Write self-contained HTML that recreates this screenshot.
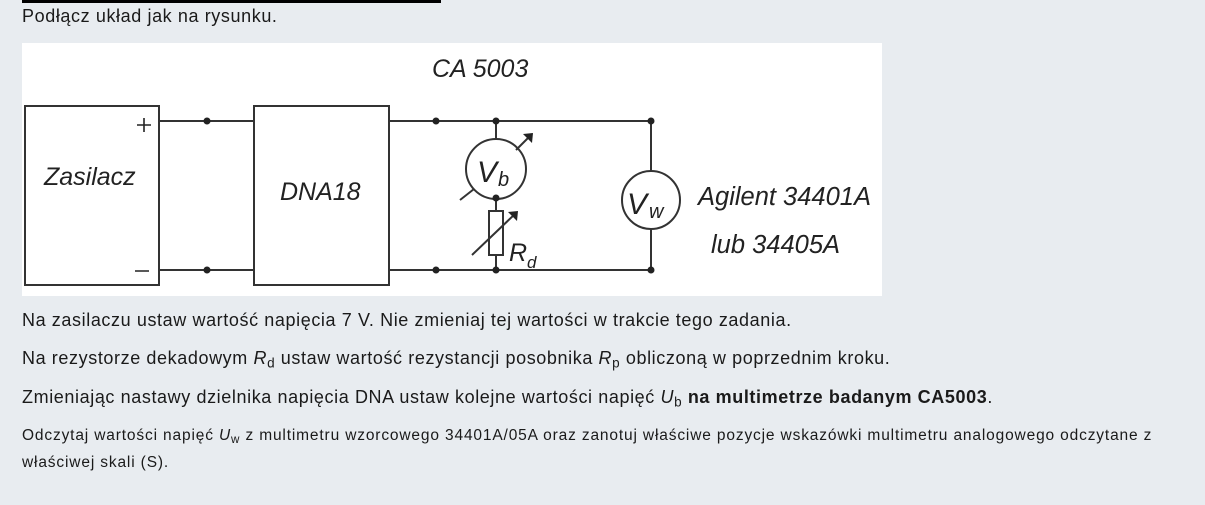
<!DOCTYPE html>
<html><head><meta charset="utf-8"><style>
body{margin:0;width:1205px;height:505px;background:#e8ecf0;font-family:"Liberation Sans",sans-serif;color:#1a1a1a;position:relative;overflow:hidden}
.t{position:absolute;left:22px;white-space:nowrap;font-size:18px;letter-spacing:0.6px}
.s{font-size:15.5px;letter-spacing:0.85px}
sub{font-size:0.75em;vertical-align:-0.25em}
</style></head><body>
<div style="position:absolute;left:22px;top:0;width:419px;height:3px;background:#000"></div>
<div style="position:absolute;left:100px;top:0;width:2px;height:3px;background:#000"></div>
<div class="t" style="top:6px">Podłącz układ jak na rysunku.</div>
<svg style="position:absolute;left:22px;top:43px" width="860" height="253" viewBox="22 43 860 253">
<rect x="22" y="43" width="860" height="253" fill="#fff"/>
<g stroke="#333" stroke-width="2" fill="none">
<rect x="25" y="106" width="134" height="179"/>
<rect x="254" y="106" width="135" height="179"/>
<path d="M159 121H254M159 270H254M389 121H651V171M389 270H651V229M496 121V139M496 199V211M496 255V270"/>
<circle cx="496" cy="169" r="30"/>
<circle cx="651" cy="200" r="29"/>
<rect x="489" y="211" width="14" height="44"/>
<path d="M474 189L460 200M532 134L516 150M472 255L516 213"/>
</g>
<g fill="#222"><circle cx="207" cy="121" r="3.5"/><circle cx="207" cy="270" r="3.5"/><circle cx="436" cy="121" r="3.5"/><circle cx="496" cy="121" r="3.5"/><circle cx="651" cy="121" r="3.5"/><circle cx="436" cy="270" r="3.5"/><circle cx="496" cy="270" r="3.5"/><circle cx="651" cy="270" r="3.5"/><circle cx="496" cy="198" r="3.5"/>
<path d="M533 133l-10 1 9 9z"/><path d="M518 211l-10 1 9 9z"/></g>
<g font-family="Liberation Sans,sans-serif" font-style="italic" fill="#222" font-size="25">
<text x="432" y="77">CA 5003</text>
<text x="44" y="185">Zasilacz</text>
<text x="280" y="200">DNA18</text>
<text x="698" y="205" font-size="25.5">Agilent 34401A</text>
<text x="711" y="253" font-size="25.5">lub 34405A</text>
<text x="477" y="182" font-size="30">V</text><text x="498" y="186" font-size="20">b</text>
<text x="627" y="214" font-size="30">V</text><text x="649" y="218" font-size="20">w</text>
<text x="509" y="261" font-size="25">R</text><text x="527" y="268" font-size="17">d</text>
</g>
<g stroke="#222" stroke-width="1.6"><path d="M137 125h14M144 118v14M135 271h14"/></g>
</svg>
<div class="t" style="top:310px">Na zasilaczu ustaw wartość napięcia 7 V. Nie zmieniaj tej wartości w trakcie tego zadania.</div>
<div class="t" style="top:348px">Na rezystorze dekadowym <i>R</i><sub>d</sub> ustaw wartość rezystancji posobnika <i>R</i><sub>p</sub> obliczoną w poprzednim kroku.</div>
<div class="t" style="top:387px">Zmieniając nastawy dzielnika napięcia DNA ustaw kolejne wartości napięć <i>U</i><sub>b</sub> <b>na multimetrze badanym CA5003</b>.</div>
<div class="t s" style="top:427px">Odczytaj wartości napięć <i>U</i><sub>w</sub> z multimetru wzorcowego 34401A/05A oraz zanotuj właściwe pozycje wskazówki multimetru analogowego odczytane z</div>
<div class="t s" style="top:454px">właściwej skali (S).</div>
</body></html>
